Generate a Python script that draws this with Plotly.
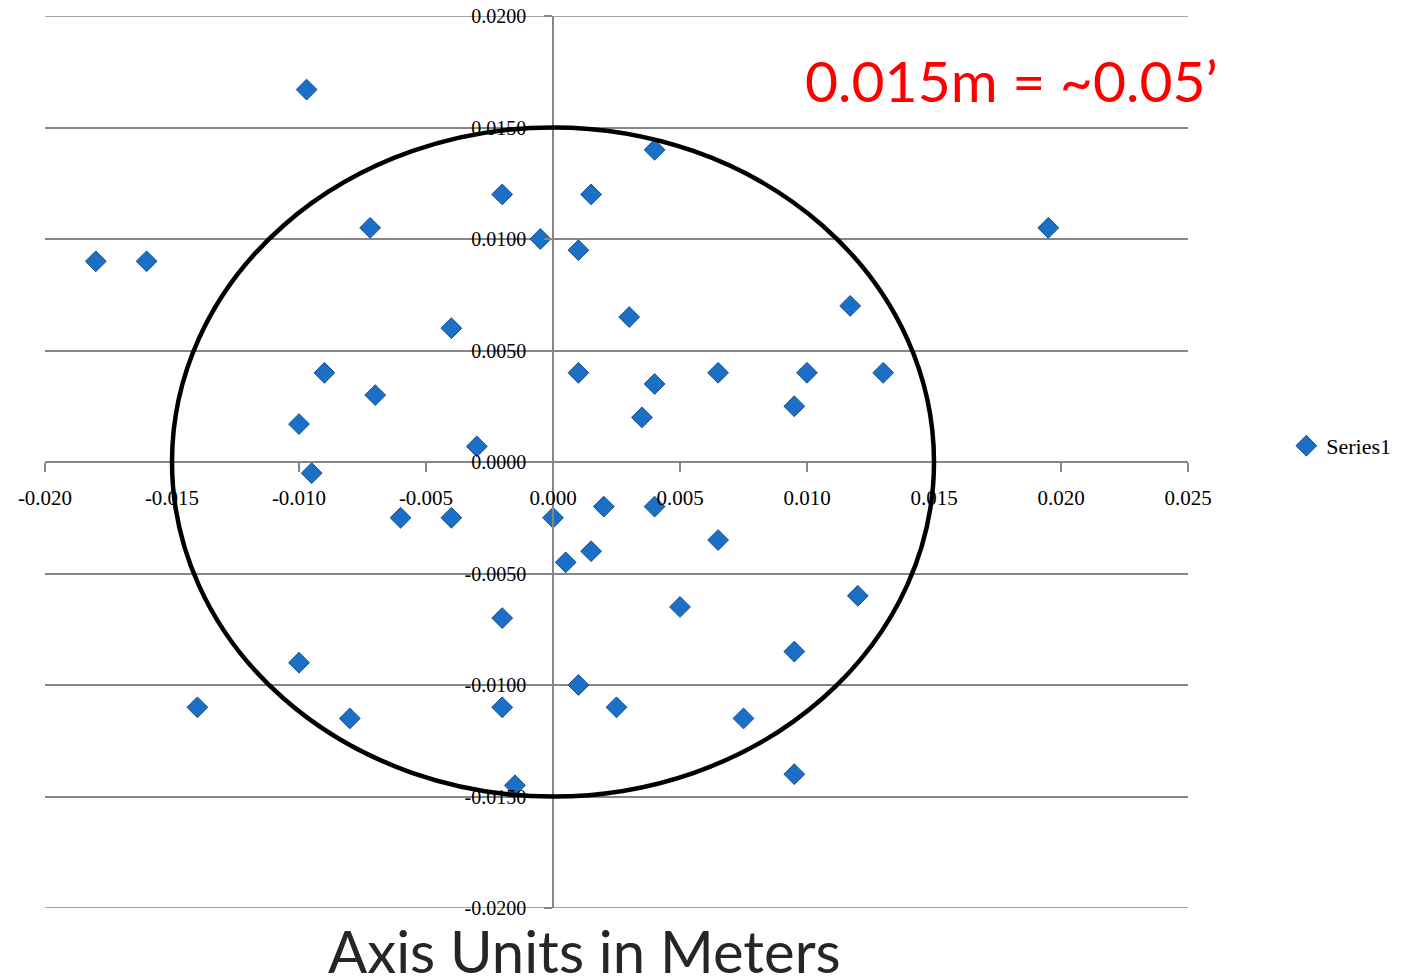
import plotly.graph_objects as go

# Data (meters)
x_vals = [-0.0097, 0.0040, -0.0020, 0.0015, -0.0072, 0.0195, -0.0005, 0.0010,
          -0.0180, -0.0160, 0.0117, 0.0030, -0.0040, -0.0090, 0.0010, 0.0065,
          0.0100, 0.0130, 0.0040, -0.0070, 0.0095, 0.0035, -0.0100, -0.0030,
          -0.0095, 0.0020, 0.0040, -0.0060, -0.0040, 0.0000, 0.0065, 0.0015,
          0.0005, 0.0120, 0.0050, -0.0020, 0.0095, -0.0100, 0.0010, -0.0140,
          -0.0020, 0.0025, -0.0080, 0.0075, 0.0095, -0.0015]
y_vals = [0.0167, 0.0140, 0.0120, 0.0120, 0.0105, 0.0105, 0.0100, 0.0095,
          0.0090, 0.0090, 0.0070, 0.0065, 0.0060, 0.0040, 0.0040, 0.0040,
          0.0040, 0.0040, 0.0035, 0.0030, 0.0025, 0.0020, 0.0017, 0.0007,
          -0.0005, -0.0020, -0.0020, -0.0025, -0.0025, -0.0025, -0.0035, -0.0040,
          -0.0045, -0.0060, -0.0065, -0.0070, -0.0085, -0.0090, -0.0100, -0.0110,
          -0.0110, -0.0110, -0.0115, -0.0115, -0.0140, -0.0145]
series_name = "Series1"
circle_radius = 0.015
x_range = [-0.020, 0.025]
y_range = [-0.020, 0.020]
x_tickvals = [-0.020, -0.015, -0.010, -0.005, 0.000, 0.005, 0.010, 0.015, 0.020, 0.025]
x_ticktext = ["-0.020", "-0.015", "-0.010", "-0.005", "0.000", "0.005", "0.010", "0.015", "0.020", "0.025"]
y_tickvals = [-0.020, -0.015, -0.010, -0.005, 0.000, 0.005, 0.010, 0.015, 0.020]
y_ticktext = ["-0.0200", "-0.0150", "-0.0100", "-0.0050", "0.0000", "0.0050", "0.0100", "0.0150", "0.0200"]

serif = "Liberation Serif"
sans = "Lato"
grid_color = "#868686"

fig = go.Figure()
fig.add_trace(go.Scatter(
    x=x_vals, y=y_vals, mode="markers", name=series_name,
    marker=dict(symbol="diamond", size=16, color="#1C6FC6",
                line=dict(color="#1A4F8C", width=1)),
    cliponaxis=False,
))

fig.add_shape(type="circle", xref="x", yref="y",
              x0=-circle_radius, x1=circle_radius,
              y0=-circle_radius, y1=circle_radius,
              line=dict(color="black", width=4.5), layer="above")

# gridlines at the range edges (plotly omits them)
for yv in (y_range[0], y_range[1]):
    fig.add_shape(type="line", xref="paper", yref="y", x0=0, x1=1, y0=yv, y1=yv,
                  line=dict(color=grid_color, width=1.5), layer="below")

fig.update_layout(
    width=1401, height=976,
    margin=dict(l=37, r=221, t=8, b=76, autoexpand=False),
    paper_bgcolor="white", plot_bgcolor="white",
    showlegend=True,
    legend=dict(x=1.086, y=0.518, xanchor="left", yanchor="middle",
                font=dict(family=serif, size=22, color="black"),
                bgcolor="rgba(0,0,0,0)", itemwidth=30),
    xaxis=dict(range=x_range, tickvals=x_tickvals, ticktext=x_ticktext,
               showgrid=False, zeroline=False, showline=True, automargin=False,
               linecolor=grid_color, linewidth=1.5,
               anchor="free", position=(0 - y_range[0]) / (y_range[1] - y_range[0]),
               ticks="outside", ticklen=9, tickcolor=grid_color, tickwidth=1.5,
               ticklabelstandoff=8, ticklabeloverflow="allow",
               tickfont=dict(family=serif, size=21, color="black")),
    yaxis=dict(range=y_range, tickvals=y_tickvals, ticktext=y_ticktext,
               showgrid=True, gridcolor=grid_color, gridwidth=1.5,
               zeroline=False, showline=True, automargin=False,
               linecolor=grid_color, linewidth=1.5,
               anchor="free", position=(0 - x_range[0]) / (x_range[1] - x_range[0]),
               ticks="outside", ticklen=8, tickcolor=grid_color, tickwidth=1.5,
               ticklabelstandoff=14, ticklabeloverflow="allow",
               tickfont=dict(family=serif, size=20, color="black")),
    annotations=[
        dict(text="0.015m = ~0.05\u2019", xref="paper", yref="paper",
             x=(1011 - 45) / 1143, y=(908 - 80) / 892, xanchor="center", yanchor="middle",
             showarrow=False,
             font=dict(family=sans, size=57, color="#FF0000")),
        dict(text="Axis Units in Meters", xref="paper", yref="paper",
             x=(584 - 45) / 1143, y=(908 - 987) / 892, xanchor="center", yanchor="bottom",
             showarrow=False,
             font=dict(family=sans, size=58, color="#262626")),
    ],
)

fig.write_html("out.html")
